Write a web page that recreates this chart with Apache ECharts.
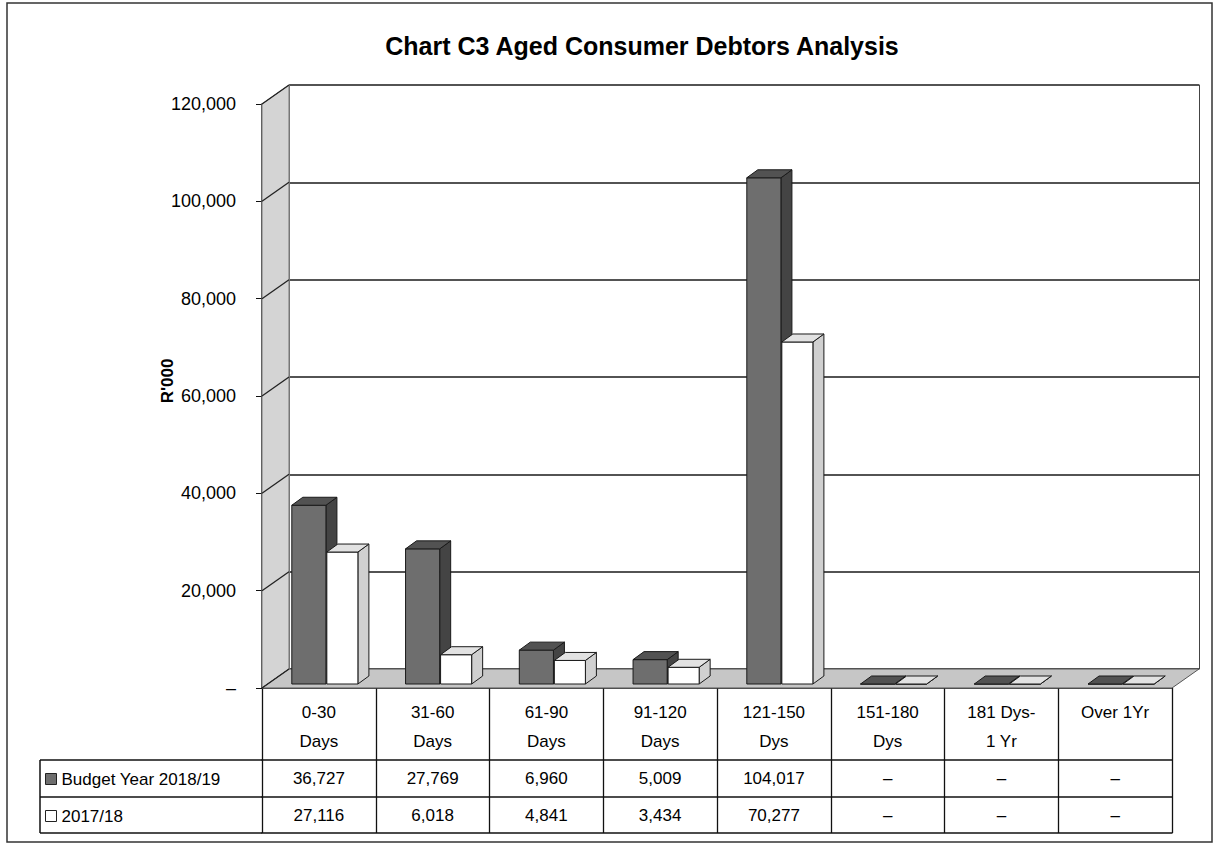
<!DOCTYPE html>
<html>
<head>
<meta charset="utf-8">
<title>Chart C3 Aged Consumer Debtors Analysis</title>
<script src="https://cdn.jsdelivr.net/npm/echarts@6/dist/echarts.min.js"></script>
<style>
  html, body { margin: 0; padding: 0; background: #fff; }
  #main { width: 1216px; height: 848px; }
</style>
</head>
<body>
<div id="main"></div>
<script>
var categories = ['0-30\nDays', '31-60\nDays', '61-90\nDays', '91-120\nDays', '121-150\nDys', '151-180\nDys', '181 Dys-\n1 Yr', 'Over 1Yr'];
var budgetValues = [36727, 27769, 6960, 5009, 104017, 0, 0, 0];
var priorValues = [27116, 6018, 4841, 3434, 70277, 0, 0, 0];
var yTicks = [0, 20000, 40000, 60000, 80000, 100000, 120000];
var seriesNames = ['Budget Year 2018/19', '2017/18'];

var FONT = "'Liberation Sans Narrow', 'Arial Narrow', 'Liberation Sans', Arial, sans-serif";
var DX = 27, DY = -19;      // depth of the back wall
var BX = 11, BY = -8;       // depth of a bar
var LIFT = -4;              // bars stand a little behind the front edge

var myChart = echarts.init(document.getElementById('main'), null, {renderer: 'svg'});

function fmt(v) {
    return v ? v.toLocaleString('en-US') : '\u2013';
}

function toPairs(arr) {
    var out = [];
    for (var i = 0; i < arr.length; i++) out.push([i, arr[i]]);
    return out;
}

function barRenderer(startFrac, widthFrac, front, topc, side) {
    return function (params, api) {
        var idx = api.value(0);
        var val = api.value(1);
        var base = api.coord([idx, 0]);
        var top = api.coord([idx, val]);
        var bw = api.size([1, 0])[0];
        var x0 = base[0] + startFrac * bw;
        var x1 = x0 + widthFrac * bw;
        var yb = base[1] + LIFT;
        var yt = top[1] + LIFT;
        var edge = '#1a1a1a';
        return {
            type: 'group',
            children: [
                {type: 'polygon', shape: {points: [[x1, yt], [x1 + BX, yt + BY], [x1 + BX, yb + BY], [x1, yb]]},
                    style: {fill: side, stroke: edge, lineWidth: 1}},
                {type: 'rect', shape: {x: x0, y: yt, width: x1 - x0, height: yb - yt},
                    style: {fill: front, stroke: edge, lineWidth: 1}},
                {type: 'polygon', shape: {points: [[x0, yt], [x0 + BX, yt + BY], [x1 + BX, yt + BY], [x1, yt]]},
                    style: {fill: topc, stroke: edge, lineWidth: 1}}
            ]
        };
    };
}

function wallRenderer(params, api) {
    var cs = params.coordSys;
    var x = cs.x, y = cs.y, w = cs.width, h = cs.height;
    var kids = [];
    kids.push({type: 'polygon', shape: {points: [[x, y + h], [x + DX, y + h + DY], [x + DX, y + DY], [x, y]]},
        style: {fill: '#d4d4d4', stroke: '#777', lineWidth: 1}});
    kids.push({type: 'polygon', shape: {points: [[x, y + h], [x + DX, y + h + DY], [x + w + DX, y + h + DY], [x + w, y + h]]},
        style: {fill: '#c6c6c6', stroke: '#555', lineWidth: 1}});
    for (var i = 0; i < yTicks.length; i++) {
        var yy = api.coord([0, yTicks[i]])[1];
        kids.push({type: 'line', shape: {x1: x, y1: yy, x2: x + DX, y2: yy + DY},
            style: {stroke: '#222', lineWidth: 1.3}});
    }
    return {type: 'group', children: kids};
}

var option = {
    backgroundColor: '#fff',
    animation: false,
    title: {
        text: 'Chart C3 Aged Consumer Debtors Analysis',
        left: 637,
        textAlign: 'center',
        top: 28,
        textStyle: {fontFamily: FONT, fontSize: 25, fontWeight: 'bold', color: '#000'}
    },
    legend: {
        orient: 'vertical',
        left: 40,
        top: 764,
        itemWidth: 11,
        itemHeight: 11,
        itemGap: 17,
        selectedMode: false,
        textStyle: {fontFamily: FONT, fontSize: 17, color: '#000', lineHeight: 20},
        data: [
            {name: seriesNames[0], icon: 'rect', itemStyle: {color: '#6e6e6e', borderColor: '#222', borderWidth: 1}},
            {name: seriesNames[1], icon: 'rect', itemStyle: {color: '#fff', borderColor: '#222', borderWidth: 1}}
        ]
    },
    grid: [
        {left: 262, right: 44, top: 104, bottom: 160},
        {left: 262 + DX, right: 44 - DX, top: 104 + DY, bottom: 160 - DY}
    ],
    xAxis: [
        {
            type: 'category', gridIndex: 0, data: categories, position: 'bottom',
            axisLine: {lineStyle: {color: '#111', width: 1.5}},
            axisTick: {show: true, interval: 0, length: 72, lineStyle: {color: '#111', width: 1.3}},
            axisLabel: {interval: 0, margin: 10, verticalAlign: 'top', lineHeight: 29,
                fontFamily: FONT, fontSize: 17, color: '#000'}
        },
        {
            type: 'category', gridIndex: 0, data: categories, position: 'bottom', offset: 72,
            axisLine: {lineStyle: {color: '#111', width: 1.5}},
            axisTick: {show: true, interval: 0, length: 37, lineStyle: {color: '#111', width: 1.3}},
            axisLabel: {interval: 0, margin: 8, verticalAlign: 'top', lineHeight: 20,
                fontFamily: FONT, fontSize: 17, color: '#000',
                formatter: function (v, i) { return fmt(budgetValues[i]); }}
        },
        {
            type: 'category', gridIndex: 0, data: categories, position: 'bottom', offset: 109,
            axisLine: {lineStyle: {color: '#111', width: 1.5}},
            axisTick: {show: true, interval: 0, length: 36, lineStyle: {color: '#111', width: 1.3}},
            axisLabel: {interval: 0, margin: 8, verticalAlign: 'top', lineHeight: 20,
                fontFamily: FONT, fontSize: 17, color: '#000',
                formatter: function (v, i) { return fmt(priorValues[i]); }}
        },
        {
            type: 'category', gridIndex: 0, data: categories, position: 'bottom', offset: 145,
            axisLine: {lineStyle: {color: '#111', width: 1.5}},
            axisTick: {show: false}, axisLabel: {show: false}
        },
        {type: 'category', gridIndex: 1, data: categories, show: false}
    ],
    yAxis: [
        {
            type: 'value', gridIndex: 0, min: 0, max: 120000, interval: 20000,
            name: "R'000", nameLocation: 'middle', nameGap: 86, nameRotate: 90, nameMoveOverlap: false,
            nameTextStyle: {fontFamily: FONT, fontSize: 17, fontWeight: 'bold', color: '#000', padding: [0, 0, 0, 30]},
            axisLine: {show: true, lineStyle: {color: '#111', width: 1.5}},
            axisTick: {show: true, length: 6, lineStyle: {color: '#111'}},
            splitLine: {show: false},
            axisLabel: {margin: 26, fontFamily: FONT, fontSize: 18, color: '#000', formatter: fmt}
        },
        {
            type: 'value', gridIndex: 1, min: 0, max: 120000, interval: 20000, position: 'left',
            axisLine: {show: true, lineStyle: {color: '#777', width: 1}},
            axisTick: {show: false}, axisLabel: {show: false},
            splitLine: {show: true, lineStyle: {color: '#1a1a1a', width: 1.5}}
        },
        {
            type: 'value', gridIndex: 1, min: 0, max: 120000, interval: 20000, position: 'right',
            axisLine: {show: true, lineStyle: {color: '#444', width: 1}},
            axisTick: {show: false}, axisLabel: {show: false}, splitLine: {show: false}
        }
    ],
    series: [
        {
            type: 'custom', name: 'walls', xAxisIndex: 0, yAxisIndex: 0, z: 1, silent: true,
            data: [[0, 0]], renderItem: wallRenderer
        },
        {
            type: 'custom', name: seriesNames[0], xAxisIndex: 0, yAxisIndex: 0, z: 3,
            itemStyle: {color: '#6e6e6e'},
            data: toPairs(budgetValues),
            renderItem: barRenderer(-0.238, 0.30, '#6e6e6e', '#525252', '#444444')
        },
        {
            type: 'custom', name: seriesNames[1], xAxisIndex: 0, yAxisIndex: 0, z: 3,
            itemStyle: {color: '#ffffff'},
            data: toPairs(priorValues),
            renderItem: barRenderer(0.07, 0.273, '#ffffff', '#e2e2e2', '#d0d0d0')
        }
    ],
    graphic: [
        {type: 'rect', shape: {x: 7, y: 3, width: 1205, height: 839}, z: 0,
            style: {fill: 'none', stroke: '#333', lineWidth: 1.5}},
        {type: 'line', shape: {x1: 40, y1: 760, x2: 262, y2: 760}, style: {stroke: '#111', lineWidth: 1.5}},
        {type: 'line', shape: {x1: 40, y1: 797, x2: 262, y2: 797}, style: {stroke: '#111', lineWidth: 1.5}},
        {type: 'line', shape: {x1: 40, y1: 833, x2: 262, y2: 833}, style: {stroke: '#111', lineWidth: 1.5}},
        {type: 'line', shape: {x1: 40, y1: 760, x2: 40, y2: 833}, style: {stroke: '#111', lineWidth: 1.5}}
    ]
};

myChart.setOption(option);
</script>
</body>
</html>
